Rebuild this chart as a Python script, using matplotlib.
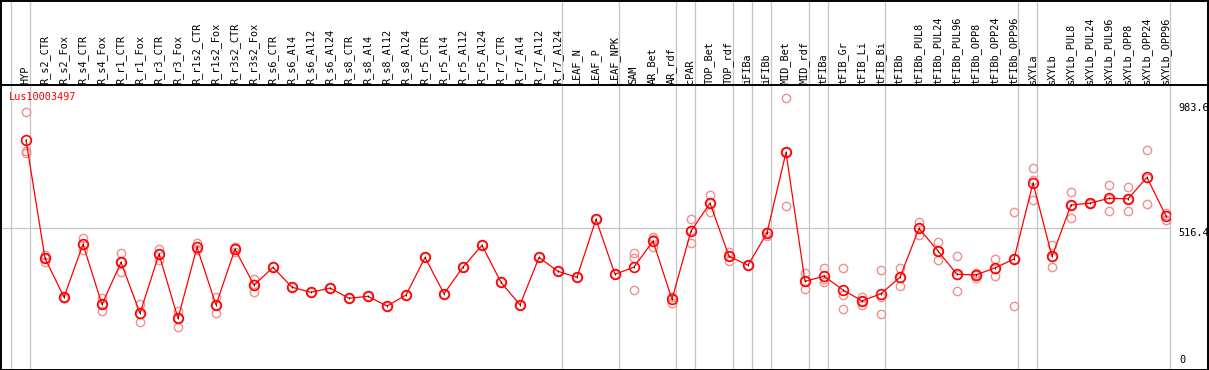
import matplotlib
matplotlib.use("Agg")
import matplotlib.pyplot as plt
from matplotlib.lines import Line2D
from matplotlib.patches import Rectangle
from matplotlib.transforms import blended_transform_factory

GENE = "Lus10003497"

SAMPLES = [
    "HYP",
    "R_s2_CTR", "R_s2_Fox", "R_s4_CTR", "R_s4_Fox", "R_r1_CTR", "R_r1_Fox",
    "R_r3_CTR", "R_r3_Fox", "R_r1s2_CTR", "R_r1s2_Fox", "R_r3s2_CTR", "R_r3s2_Fox",
    "R_s6_CTR", "R_s6_Al4", "R_s6_Al12", "R_s6_Al24",
    "R_s8_CTR", "R_s8_Al4", "R_s8_Al12", "R_s8_Al24",
    "R_r5_CTR", "R_r5_Al4", "R_r5_Al12", "R_r5_Al24",
    "R_r7_CTR", "R_r7_Al4", "R_r7_Al12", "R_r7_Al24",
    "LEAF_N", "LEAF_P", "LEAF_NPK",
    "SAM", "AR_Bet", "AR_rdf",
    "cPAR",
    "TOP_Bet", "TOP_rdf",
    "iFIBa", "iFIBb",
    "MID_Bet", "MID_rdf",
    "tFIBa",
    "tFIB_Gr", "tFIB_Li", "tFIB_Bi",
    "tFIBb", "tFIBb_PUL8", "tFIBb_PUL24", "tFIBb_PUL96",
    "tFIBb_OPP8", "tFIBb_OPP24", "tFIBb_OPP96",
    "sXYLa",
    "sXYLb", "sXYLb_PUL8", "sXYLb_PUL24", "sXYLb_PUL96",
    "sXYLb_OPP8", "sXYLb_OPP24", "sXYLb_OPP96",
]

# number of samples in each tissue group (separated by grey lines)
GROUP_SIZES = [1, 28, 3, 3, 1, 2, 1, 1, 2, 1, 3, 7, 1, 7]

MEANS = [
    845,
    405, 260, 457, 233, 390, 200, 420, 181, 446, 231, 439, 305,
    371, 297, 278, 294, 256, 263, 227, 268, 408, 273, 372, 453,
    315, 231, 408, 356,
    334, 550, 345,
    372, 469, 252,
    506,
    610, 412,
    379, 499,
    799, 319,
    338,
    287, 246, 273,
    334, 516, 432, 345, 343, 369, 402,
    685,
    412, 603, 610, 628, 626, 706, 562,
]

REPLICATES = [
    [948, 804, 795],
    [417, 405, 391], [262, 258, 256], [481, 453, 436], [258, 233, 210],
    [423, 391, 355], [235, 199, 166], [439, 421, 398], [210, 184, 150],
    [461, 441, 436], [260, 231, 202], [446, 443, 429], [327, 309, 280],
    [371], [297], [278], [294], [256], [263], [227], [268],
    [408], [273], [372], [453], [315], [231], [408], [356],
    [334], [550], [345],
    [423, 407, 287], [485, 477, 446], [260, 259, 237],
    [550, 509, 461],
    [640, 612, 576], [429, 412, 395],
    [379], [504, 504, 489],
    [1000, 799, 598], [349, 319, 289],
    [368, 328, 318],
    [369, 268, 215], [260, 247, 231], [361, 261, 196],
    [369, 333, 300], [541, 518, 490], [465, 433, 397], [412, 341, 282],
    [351, 344, 333], [402, 366, 338], [576, 403, 227],
    [740, 695, 621],
    [454, 409, 373], [650, 605, 554], [612, 609, 607], [678, 627, 580],
    [670, 627, 580], [808, 705, 606], [575, 565, 547],
]

TICK_VALUES = [983.6, 516.4, 0]
TICK_LABELS = ["983.6", "516.4", "0"]

W, H = 1209, 370
fig = plt.figure(figsize=(W / 100, H / 100), dpi=100)
ax = fig.add_axes([1 / W, 2 / H, 1169 / W, 282 / H])
ax.set_xlim(-25 / 19, 1144 / 19)
ax.set_ylim(-3.7, 1046.2)
ax.set_axis_off()

mono = "DejaVu Sans Mono"
fs = 7.4
grey = "#c4c4c4"

# grey separators between sample groups, running up through the header
start = 0
for size in [0] + GROUP_SIZES:
    start += size
    ax.axvline(start - 15 / 19, 0, 368 / 282, color=grey, lw=0.9, clip_on=False, zorder=1)
ax.axhline(TICK_VALUES[1], color=grey, lw=0.9, zorder=1)

xs = list(range(len(SAMPLES)))
ax.plot(xs, MEANS, color="red", lw=0.9, zorder=3)
for x, reps in zip(xs, REPLICATES):
    ax.plot([x] * len(reps), reps, "o", ms=6, mfc="none", mec="#f09090",
            mew=1.0, zorder=2, clip_on=False)
ax.plot(xs, MEANS, "o", ms=7, mfc="none", mec="red", mew=1.2, zorder=4)
ax.plot(xs, MEANS, "|", ms=2, color="black", mew=0.6, zorder=5)

# sample names in the header band
hdr = blended_transform_factory(ax.transData, fig.transFigure)
for x, name in zip(xs, SAMPLES):
    ax.text(x - 0.5 / 19, (H - 84) / H, name, rotation=90, ha="center", va="bottom",
            fontsize=fs, family=mono, transform=hdr, clip_on=False)

fig.text(9 / W, (H - 97) / H, GENE, color="red", fontsize=fs, family=mono,
         ha="left", va="center")

# value scale on the right
rt = blended_transform_factory(fig.transFigure, ax.transData)
for v, lab in zip(TICK_VALUES[:2], TICK_LABELS[:2]):
    ax.text(1178 / W, v, lab, fontsize=fs, family=mono, ha="left", va="top",
            transform=rt, clip_on=False)
fig.text(1179 / W, 5 / H, TICK_LABELS[2], fontsize=fs, family=mono, ha="left", va="bottom")

# frame and header divider
fig.add_artist(Rectangle((0.5 / W, 0.5 / H), (W - 1.5) / W, (H - 1.5) / H,
                         transform=fig.transFigure, fill=False, ec="black", lw=1.4))
fig.add_artist(Line2D([0, 1], [(H - 85) / H] * 2, transform=fig.transFigure,
                      color="black", lw=1.4))

fig.savefig("out.png", dpi=100)
